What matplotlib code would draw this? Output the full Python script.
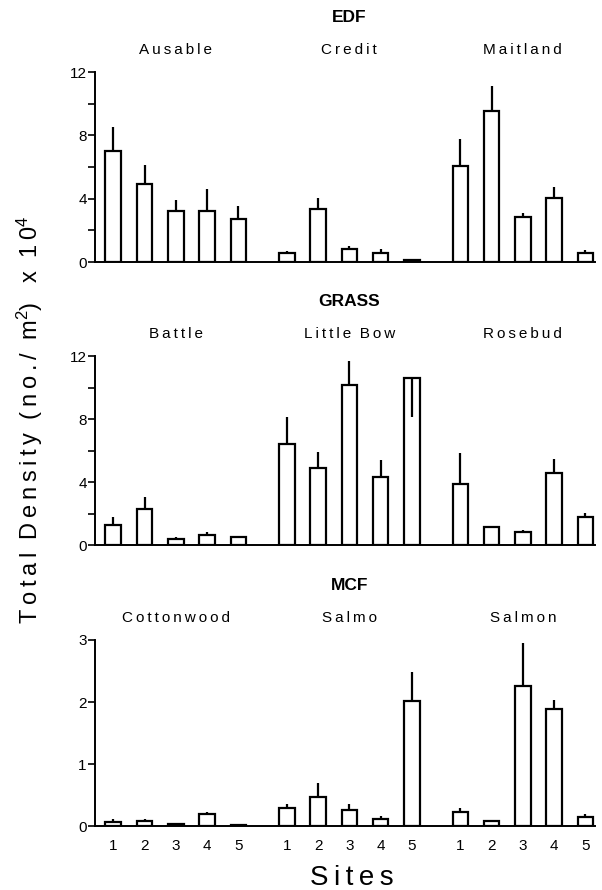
import numpy as np
import matplotlib
matplotlib.use('Agg')
from matplotlib import pyplot as plt

plt.rcParams['font.family'] = ['Liberation Sans', 'DejaVu Sans']
plt.rcParams['mathtext.fontset'] = 'custom'
plt.rcParams['mathtext.rm'] = 'Liberation Sans'
plt.rcParams['mathtext.it'] = 'Liberation Sans'

sites = ['1', '2', '3', '4', '5']

# EDF panel
edf_streams = ['Ausable', 'Credit', 'Maitland']
edf_mean = [[7.0, 4.95, 3.2, 3.25, 2.72],
            [0.54, 3.35, 0.84, 0.59, 0.15],
            [6.07, 9.55, 2.83, 4.02, 0.59]]
edf_err = [[1.52, 1.16, 0.74, 1.35, 0.8],
           [0.15, 0.67, 0.16, 0.25, 0.05],
           [1.68, 1.59, 0.25, 0.69, 0.18]]

# GRASS panel
grass_streams = ['Battle', 'Little Bow', 'Rosebud']
grass_mean = [[1.27, 2.31, 0.38, 0.66, 0.51],
              [6.39, 4.91, 10.18, 4.34, 10.6],
              [3.87, 1.12, 0.83, 4.57, 1.78]]
grass_err = [[0.49, 0.76, 0.11, 0.19, 0.04],
             [1.76, 1.02, 1.48, 1.04, -2.47],
             [1.95, 0.08, 0.12, 0.87, 0.25]]

# MCF panel
mcf_streams = ['Cottonwood', 'Salmo', 'Salmon']
mcf_mean = [[0.07, 0.075, 0.03, 0.19, 0.016],
            [0.29, 0.46, 0.26, 0.12, 2.01],
            [0.23, 0.075, 2.26, 1.88, 0.14]]
mcf_err = [[0.04, 0.035, 0.01, 0.04, 0.004],
           [0.07, 0.24, 0.09, 0.04, 0.48],
           [0.06, 0.015, 0.69, 0.16, 0.06]]

panels = [('EDF', edf_streams, edf_mean, edf_err, [0, 4, 8, 12], 12),
          ('GRASS', grass_streams, grass_mean, grass_err, [0, 4, 8, 12], 12),
          ('MCF', mcf_streams, mcf_mean, mcf_err, [0, 1, 2, 3], 3)]

# axes boxes [left, bottom, width, height] in figure fraction
boxes = [[0.158, 0.7056, 0.83, 0.2135],
         [0.158, 0.3876, 0.83, 0.2124],
         [0.158, 0.0719, 0.83, 0.209]]

group_step = 5.55


def spaced(s):
    # the original lettering is widely tracked; fake it with thin spaces
    return '\u2009'.join(s).replace('\u2009 \u2009', '  ')


fig = plt.figure(figsize=(6.02, 8.90), dpi=100)

for k, (title, streams, means, errs, yticks, ymax) in enumerate(panels):
    ax = fig.add_axes(boxes[k])
    for g in range(3):
        x = np.arange(5) + g * group_step
        m = np.array(means[g])
        e = np.array(errs[g])
        ax.bar(x, m, width=0.5, color='white', edgecolor='black', linewidth=1.6, zorder=2)
        ax.vlines(x, m, m + e, color='black', linewidth=1.6, zorder=3)
        ax.annotate(spaced(streams[g]), xy=(g * group_step + 2, 1), xycoords=('data', 'axes fraction'),
                    xytext=(0, 16), textcoords='offset points', ha='center', va='center',
                    fontsize=11)
    ax.annotate(title, xy=(2 + group_step, 1), xycoords=('data', 'axes fraction'),
                xytext=(0, 39), textcoords='offset points', ha='center', va='center',
                fontsize=12.5, fontweight='bold')

    ax.set_xlim(-0.58, 2 * group_step + 4.3)
    ax.set_ylim(0, ymax)
    ax.set_yticks(yticks)
    if ymax == 12:
        ax.set_yticks([2, 6, 10], minor=True)
    ax.tick_params(axis='y', direction='out', length=5, width=1.2, labelsize=11, pad=1)
    ax.tick_params(axis='y', which='minor', direction='out', length=5, width=1.2)
    ax.spines['top'].set_visible(False)
    ax.spines['right'].set_visible(False)
    ax.spines['left'].set_linewidth(1.4)
    ax.spines['bottom'].set_linewidth(1.4)

    if k == 2:
        ticks = np.concatenate([np.arange(5) + g * group_step for g in range(3)])
        ax.set_xticks(ticks)
        ax.set_xticklabels(sites * 3, fontsize=11)
        ax.tick_params(axis='x', length=0, pad=9)
    else:
        ax.set_xticks([])

fig.text(0.585, 0.013, spaced('Sites'), ha='center', va='center', fontsize=20)
fig.text(0.05, 0.528, spaced('Total Density (no./') + '  m$^2$)   x  ' + spaced('10') + '$^4$',
         rotation=90, ha='center', va='center', fontsize=17)

plt.savefig('out.png', dpi=100)
